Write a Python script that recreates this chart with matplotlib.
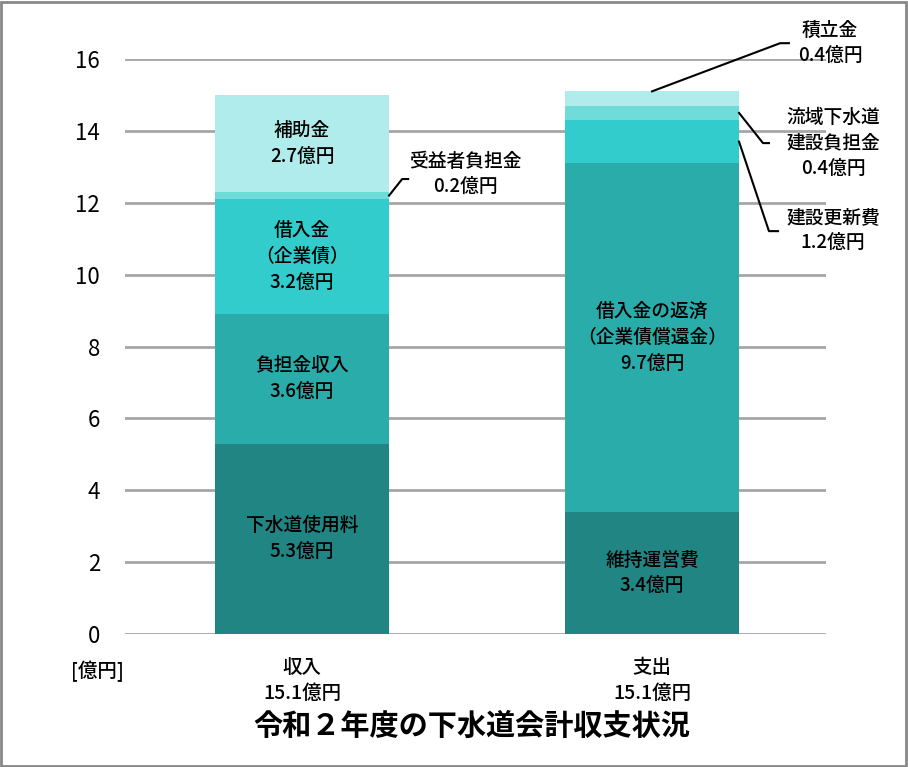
import matplotlib.pyplot as plt
from matplotlib.patches import Rectangle

plt.rcParams['font.family'] = ['Noto Sans CJK JP', 'DejaVu Sans']
plt.rcParams['font.weight'] = 'medium'

# data
bar_names = ['収入\n15.1億円', '支出\n15.1億円']
income = [5.3, 3.6, 3.2, 0.2, 2.7]
expense = [3.4, 9.7, 1.2, 0.4, 0.4]
income_labels = ['下水道使用料\n5.3億円', '負担金収入\n3.6億円', '借入金\n（企業債）\n3.2億円', None, '補助金\n2.7億円']
expense_labels = ['維持運営費\n3.4億円', '借入金の返済\n（企業債償還金）\n9.7億円', None, None, None]
colors = ['#218583', '#2aacaa', '#33cccc', '#70dcd9', '#b0ecec']
yticks = [0, 2, 4, 6, 8, 10, 12, 14, 16]

fig = plt.figure(figsize=(9.08, 7.67), dpi=100)
ax = fig.add_axes([125 / 908, 1 - 634 / 767, 701 / 908, 575 / 767])

width = 0.497
for i, (vals, labels) in enumerate([(income, income_labels), (expense, expense_labels)]):
    bottom = 0
    for v, c, lab in zip(vals, colors, labels):
        ax.bar(i, v, width, bottom=bottom, color=c, zorder=2)
        if lab:
            ax.text(i, bottom + v / 2, lab, ha='center', va='center', fontsize=13.5, linespacing=1.45, zorder=3)
        bottom += v

ax.set_xlim(-0.506, 1.497)
ax.set_ylim(0, 16)
ax.set_yticks(yticks)
ax.tick_params(axis='y', length=0, pad=18, labelsize=16)
for t in ax.get_yticklabels():
    t.set_fontweight('normal')
ax.set_xticks([])
ax.yaxis.grid(True, color='#a6a6a6', linewidth=2, zorder=0)
for s in ax.spines.values():
    s.set_visible(False)

# leader lines and outside labels
edge = width / 2
cum_in = [sum(income[:k + 1]) for k in range(len(income))]
cum_ex = [sum(expense[:k + 1]) for k in range(len(expense))]

def leader(x0, y0, x1, y1, x2, text, tx, ty):
    ax.plot([x0, x1, x2], [y0, y1, y1], color='black', linewidth=1.5, clip_on=False, zorder=4)
    ax.text(tx, ty, text, ha='center', va='center', fontsize=13.5, linespacing=1.45)

leader(edge, cum_in[2] + income[3] / 2, 0.286, 12.66, 0.303, '受益者負担金\n0.2億円', 0.466, 12.8)
leader(1.0, cum_ex[4], 1.366, 16.44, 1.391, '積立金\n0.4億円', 1.509, 16.45)
leader(1 + edge, cum_ex[2] + expense[3] / 2, 1.317, 13.66, 1.334, '流域下水道\n建設負担金\n0.4億円', 1.517, 13.66)
leader(1 + edge, cum_ex[1] + expense[2] / 2, 1.334, 11.21, 1.36, '建設更新費\n1.2億円', 1.517, 11.24)

# category labels under the bars
for i, name in enumerate(bar_names):
    ax.text(i, -1.3, name, ha='center', va='center', fontsize=14, linespacing=1.45)
ax.text(-0.584, -1.05, '[億円]', ha='center', va='center', fontsize=14)

fig.text(472 / 908, 1 - 726 / 767, '令和２年度の下水道会計収支状況', ha='center', va='center',
         fontsize=21, fontweight='bold')

fig.patches.append(Rectangle((0.001, 0.001), 0.997, 0.997, transform=fig.transFigure,
                             fill=False, edgecolor='#888888', linewidth=2))

fig.savefig('out.png', dpi=100)
